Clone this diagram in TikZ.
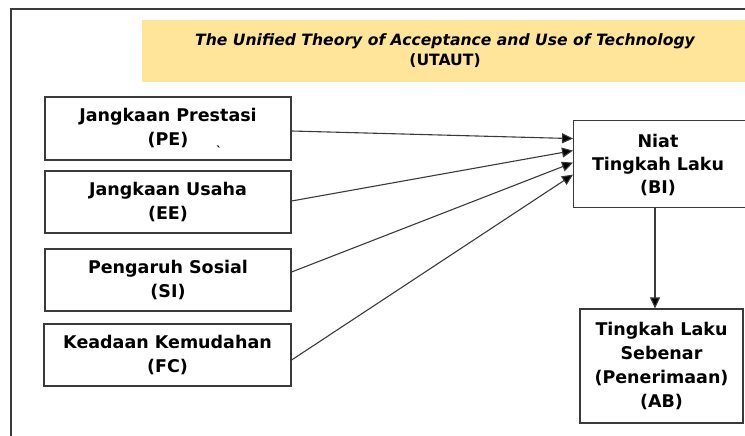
\documentclass[tikz,border=0pt]{standalone}
\usepackage{fontspec}
\setmainfont{DejaVu Sans}
\usetikzlibrary{arrows.meta}
\definecolor{titlebg}{HTML}{FFE599}
\definecolor{edge}{HTML}{3A3A3A}
\begin{document}
\begin{tikzpicture}[x=1pt,y=-1pt,
  box/.style={draw=edge, line width=1.2pt, fill=white, align=center,
    font=\fontsize{17.5}{24}\selectfont\bfseries, inner sep=0pt},
  boxtext/.style={align=center, font=\fontsize{17.5}{23}\selectfont\bfseries, inner sep=0pt},
  arr/.style={draw=edge, line width=1.1pt, -{Triangle[length=11pt,width=10pt,fill=black]}},
]
\useasboundingbox (0,0) rectangle (745,436);
\clip (0,0) rectangle (745,436);
\draw[line width=2pt, color=edge] (11,470) -- (11,9) -- (780,9);
\node[fill=titlebg, minimum width=640pt, minimum height=62pt, inner sep=0pt, anchor=north west] (bg) at (142,20) {};
\node[align=center, inner sep=0pt, font=\fontsize{15.6}{20}\selectfont\bfseries] (title) at (445,51)
  {\itshape The Unified Theory of Acceptance and Use of Technology\\(UTAUT)};
\node[box, minimum width=246pt, minimum height=63pt] (PE) at (168,128.5) {Jangkaan Prestasi\\(PE)};
\node[box, minimum width=246pt, minimum height=62pt] (EE) at (168,202) {Jangkaan Usaha\\(EE)};
\node[box, minimum width=246pt, minimum height=62pt] (SI) at (168,280) {Pengaruh Sosial\\(SI)};
\node[box, minimum width=247pt, minimum height=62pt] (FC) at (167.5,355) {Keadaan Kemudahan\\(FC)};
\node[box, minimum width=190pt, minimum height=87pt, anchor=north west] (BI) at (573,120) {};
\node[boxtext] (BItext) at (658,165) {Niat\\Tingkah Laku\\(BI)};
\node[box, minimum width=163pt, minimum height=114pt] (AB) at (661.5,366) {Tingkah Laku\\Sebenar\\(Penerimaan)\\(AB)};
\node[inner sep=0pt, font=\fontsize{12}{12}\selectfont\bfseries] (mark) at (219,151) {\textasciigrave};
\draw[arr] ([yshift=-2.5pt]PE.east) -- ([yshift=25.5pt]BI.west);
\draw[arr] ([yshift=1pt]EE.east) -- ([yshift=13.5pt]BI.west);
\draw[arr] ([yshift=8pt]SI.east) -- ([yshift=1.5pt]BI.west);
\draw[arr] ([yshift=-5pt]FC.east) -- ([yshift=-10.5pt]BI.west);
\draw[arr] ([xshift=-6.5pt]AB.north |- BI.south) -- ([xshift=-6.5pt]AB.north);
\end{tikzpicture}
\end{document}
